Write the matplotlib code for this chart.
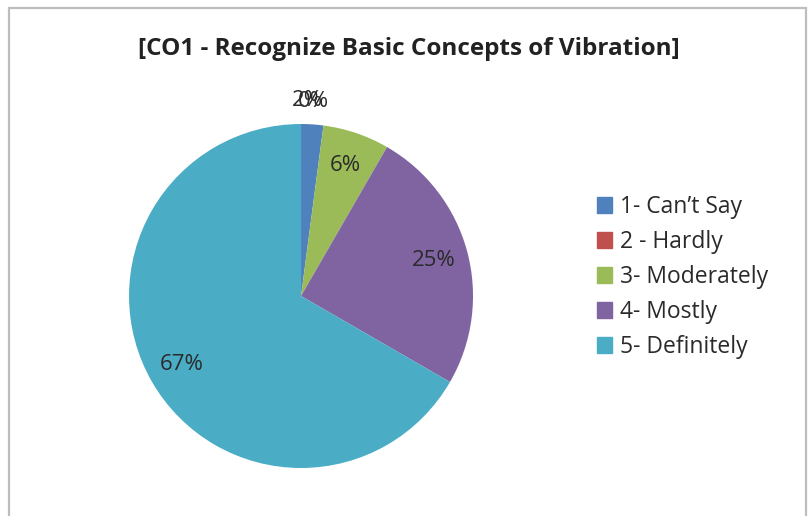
import matplotlib

matplotlib.use("Agg")
import matplotlib.pyplot as plt
from matplotlib.patches import Rectangle

plt.rcParams["font.family"] = ["Open Sans", "DejaVu Sans"]

# survey responses (counts), read as percentages 2 / 0 / 6 / 25 / 67
CATEGORIES = ["1- Can\u2019t Say", "2 - Hardly", "3- Moderately", "4- Mostly", "5- Definitely"]
COUNTS = [1, 0, 3, 12, 32]
COLORS = ["#4F81BD", "#C0504D", "#9BBB59", "#8064A2", "#4BACC6"]
TITLE = "[CO1 - Recognize Basic Concepts of Vibration]"

fig = plt.figure(figsize=(8.09, 5.16), dpi=100)

# chart frame
fig.patches.append(Rectangle((0.011, -0.02), 0.985, 1.004, transform=fig.transFigure,
                             fill=False, edgecolor="#BDBDBD", lw=1.6))

fig.text(0.506, 0.905, TITLE, ha="center", va="center", fontsize=17.5,
         fontweight="bold", color="#222222")

ax = fig.add_axes([0.1595, 0.093, 0.4252, 0.6667])
wedges, _, autotexts = ax.pie(
    COUNTS, colors=COLORS, startangle=90, counterclock=False,
    autopct="%1.0f%%", pctdistance=0.8,
    textprops=dict(fontsize=16, color="#2a2a2a"),
    wedgeprops=dict(linewidth=0))
ax.set_xlim(-1, 1)
ax.set_ylim(-1, 1)
ax.set_aspect("equal")

# tiny slices: labels sit just above the rim and pile onto each other
for w, t, c in zip(wedges, autotexts, COUNTS):
    if c / sum(COUNTS) < 0.04:
        x, y = t.get_position()
        t.set_position((x / 0.8 * 0.55, y / 0.8 * 1.14))

handles = [Rectangle((0, 0), 1, 1, color=c) for c in COLORS]
fig.legend(handles, CATEGORIES, loc="center left", bbox_to_anchor=(0.712, 0.463),
           frameon=False, fontsize=16.5, handlelength=0.65, handleheight=0.65,
           handletextpad=0.35, labelspacing=0.48, labelcolor="#2a2a2a")

fig.savefig("out.png", dpi=100)
